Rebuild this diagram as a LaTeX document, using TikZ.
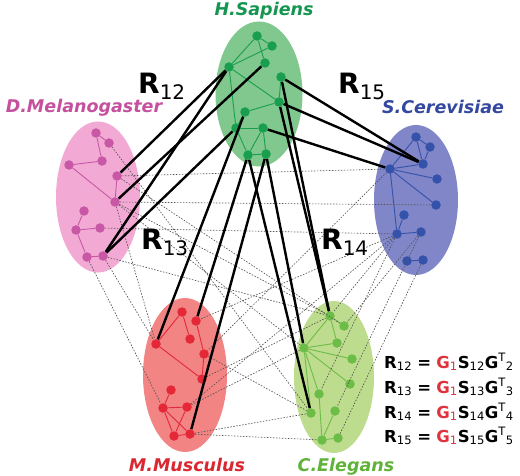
\documentclass[tikz,border=0pt]{standalone}
\usepackage{fontspec}
\setmainfont{DejaVu Sans}
\usepackage{xcolor}
\usetikzlibrary{positioning}

\definecolor{hsfill}{RGB}{128,200,142}
\definecolor{hsdot}{RGB}{24,158,78}
\definecolor{hstext}{RGB}{20,150,80}
\definecolor{dmfill}{RGB}{242,170,212}
\definecolor{dmdot}{RGB}{200,88,165}
\definecolor{dmtext}{RGB}{196,80,158}
\definecolor{scfill}{RGB}{128,134,200}
\definecolor{scdot}{RGB}{52,82,170}
\definecolor{sctext}{RGB}{52,72,160}
\definecolor{mmfill}{RGB}{242,132,132}
\definecolor{mmdot}{RGB}{228,40,56}
\definecolor{mmtext}{RGB}{218,40,50}
\definecolor{cefill}{RGB}{190,220,142}
\definecolor{cedot}{RGB}{108,188,72}
\definecolor{cetext}{RGB}{96,178,58}
\definecolor{gred}{RGB}{222,50,60}

\tikzset{
  gene/.style={circle, fill=#1, inner sep=0pt, minimum width=8.5pt, minimum height=9.5pt},
  netedge/.style={draw=#1, line width=0.9pt},
  alignline/.style={black, line width=2.4pt},
  homolog/.style={gray!65!black, line width=0.65pt, dash pattern=on 1.5pt off 1.5pt},
  species/.style={anchor=base, inner sep=0pt, font=\fontsize{17.5}{17.5}\selectfont\bfseries\itshape},
  rname/.style={anchor=base west, inner sep=0pt, font=\fontsize{28}{28}\selectfont},
  formula/.style={anchor=base west, inner sep=0pt, font=\fontsize{16.5}{16.5}\selectfont},
}

\newcommand{\Rsub}[1]{\textbf{R}\raisebox{-0.2em}{\fontsize{20}{20}\selectfont #1}}
\newcommand{\Rform}[2]{\textbf{R}\textsubscript{1#1} \textbf{=} {\color{gred}\textbf{G}\textsubscript{1}}\textbf{S}\textsubscript{1#1}\textbf{G}\textsuperscript{T}\textsubscript{#2}}

\begin{document}
\begin{tikzpicture}[x=1pt, y=-1pt]
\useasboundingbox (0,0) rectangle (520,476);

% species clouds
\fill[hsfill] (259,94) ellipse (43.5pt and 72.5pt);
\fill[dmfill] (98,197) ellipse (42pt and 75.5pt);
\fill[scfill] (416,200) ellipse (42pt and 75pt);
\fill[mmfill] (185,375) ellipse (42pt and 77pt);
\fill[cefill] (334,377) ellipse (40pt and 76pt);

% genes
\foreach \n/\x/\y in {h1/257/36, h2/272/46, h3/229/67, h4/265/63, h5/281/77, h6/279/102,
    h7/245/112, h8/236/128, h9/263/128, h10/248/155, h11/266/154}
  \node[gene=hsdot] (\n) at (\x,\y) {};
\foreach \n/\x/\y in {d1/96/133, d2/109/143, d3/69/165, d4/102/161, d5/117/176, d6/115/202,
    d7/84/211, d8/76/230, d9/100/228, d10/87/257, d11/103/256}
  \node[gene=dmdot] (\n) at (\x,\y) {};
\foreach \n/\x/\y in {s1/416/137, s2/430/147, s3/423/164, s4/390/169, s5/437/179, s6/436/205,
    s7/404/215, s8/397/234, s9/421/232, s10/407/261, s11/423/260}
  \node[gene=scdot] (\n) at (\x,\y) {};
\foreach \n/\x/\y in {m1/182/312, m2/196/321, m3/156/344, m4/190/339, m5/204/354, m6/202/379,
    m7/171/390, m8/163/408, m9/187/407, m10/174/436, m11/190/434}
  \node[gene=mmdot] (\n) at (\x,\y) {};
\foreach \n/\x/\y in {c1/330/316, c2/344/326, c3/304/348, c4/337/343, c5/352/359, c6/350/384,
    c7/319/394, c8/311/413, c9/335/411, c10/322/440, c11/338/438}
  \node[gene=cedot] (\n) at (\x,\y) {};

% networks inside each species
\foreach \a/\b in {h1/h2, h1/h3, h2/h3, h1/h4, h3/h6, h3/h8, h5/h6, h6/h7, h7/h8,
    h8/h9, h8/h10, h9/h10, h9/h11, h10/h11}
  \draw[netedge=hsdot] (\a) -- (\b);
\foreach \a/\b in {d1/d2, d1/d4, d3/d4, d3/d6, d5/d6, d7/d8, d8/d9, d8/d10, d10/d11}
  \draw[netedge=dmdot] (\a) -- (\b);
\foreach \a/\b in {s1/s2, s1/s3, s2/s3, s1/s4, s4/s3, s4/s5, s4/s6, s4/s8, s7/s8, s8/s9, s10/s11}
  \draw[netedge=scdot] (\a) -- (\b);
\foreach \a/\b in {m1/m3, m1/m4, m2/m5, m5/m6, m3/m6, m7/m8, m8/m9, m8/m10, m8/m11, m9/m10, m10/m11}
  \draw[netedge=mmdot] (\a) -- (\b);
\foreach \a/\b in {c1/c2, c1/c3, c1/c4, c3/c4, c3/c5, c3/c6, c3/c7, c3/c8, c7/c10, c9/c10, c10/c11}
  \draw[netedge=cedot] (\a) -- (\b);

% homologies between the other species
\foreach \a/\b in {d5/s4, d6/s6, d9/s8, d6/c1, d6/c3, d2/c8, d5/c2, d11/c1, d11/m3, d6/m3, d10/m8,
    s4/m5, s8/m2, s8/m9, s8/c7, s8/c1, s9/c9, s9/c2, s11/c11,
    m5/c8, m6/c1, m9/c3, m11/c10, m11/c8}
  \draw[homolog] (\a) -- (\b);

% alignments from H.Sapiens
\foreach \a/\b in {h3/d5, h3/d11, h4/d6, h8/d11, h5/s3, h6/s3, h9/s4,
    h7/m3, h10/m2, h11/m11, h5/c1, h6/c1, h11/c3, h10/c8}
  \draw[alignline] (\a) -- (\b);

% names
\node[species, text=hstext] (hsname) at (264,16) {H.Sapiens};
\node[species, text=dmtext] (dmname) at (84,113) {D.Melanogaster};
\node[species, text=sctext] (scname) at (443,114) {S.Cerevisiae};
\node[species, text=mmtext] (mmname) at (187,471) {M.Musculus};
\node[species, text=cetext] (cename) at (346,471) {C.Elegans};

\node[rname] (r12) at (138,94) {\Rsub{12}};
\node[rname] (r15) at (338,94) {\Rsub{15}};
\node[rname] (r13) at (141,250) {\Rsub{13}};
\node[rname] (r14) at (321,250) {\Rsub{14}};

\node[formula] (f12) at (384,368) {\Rform{2}{2}};
\node[formula] (f13) at (384,393) {\Rform{3}{3}};
\node[formula] (f14) at (384,418) {\Rform{4}{4}};
\node[formula] (f15) at (384,442) {\Rform{5}{5}};
\end{tikzpicture}
\end{document}
